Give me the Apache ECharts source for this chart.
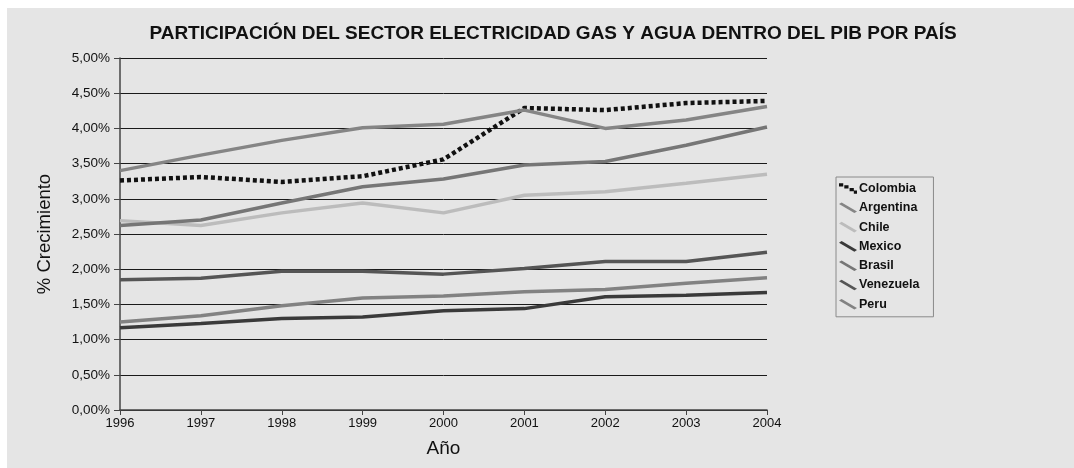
<!DOCTYPE html>
<html>
<head>
<meta charset="utf-8">
<script src="https://cdn.jsdelivr.net/npm/echarts@6/dist/echarts.min.js"></script>
<style>
  html, body { margin: 0; padding: 0; background: #ffffff; }
  #chart { width: 1074px; height: 468px; }
</style>
</head>
<body>
<div id="chart"></div>
<script>
// Years on the x axis
const years = ['1996', '1997', '1998', '1999', '2000', '2001', '2002', '2003', '2004'];

// Share of the electricity, gas and water sector in GDP (%)
const colombia  = [3.26, 3.31, 3.24, 3.32, 3.56, 4.29, 4.26, 4.36, 4.39];
const argentina = [3.40, 3.62, 3.83, 4.01, 4.06, 4.26, 4.00, 4.12, 4.31];
const chile     = [2.69, 2.62, 2.80, 2.94, 2.80, 3.05, 3.10, 3.22, 3.35];
const mexico    = [1.17, 1.23, 1.30, 1.32, 1.41, 1.44, 1.61, 1.63, 1.67];
const brasil    = [2.62, 2.70, 2.94, 3.17, 3.28, 3.48, 3.53, 3.76, 4.02];
const venezuela = [1.85, 1.87, 1.97, 1.97, 1.93, 2.01, 2.11, 2.11, 2.24];
const peru      = [1.25, 1.34, 1.48, 1.59, 1.62, 1.68, 1.71, 1.80, 1.88];

const FONT = '"Liberation Sans", Arial, sans-serif';

// Diagonal stroke used as legend swatch
const bandIcon = 'path://M0,1.5L2.5,0L17,8.5L14.5,10Z';
const dotIcon = 'path://M0,0L4,0L4,3L0,3Z M5,2L9,2L9,5L5,5Z M10,4.5L14,4.5L14,7.5L10,7.5Z M14,7L17,7L17,10L14,10Z';

function line(name, data, color, width, type) {
  return {
    name: name,
    type: 'line',
    data: data,
    symbol: 'none',
    smooth: false,
    lineStyle: { color: color, width: width, type: type || 'solid', cap: 'butt' },
    itemStyle: { color: color },
    emphasis: { disabled: true }
  };
}

const chart = echarts.init(document.getElementById('chart'), null, { renderer: 'canvas' });
chart.setOption({
  backgroundColor: '#ffffff',
  animation: false,
  graphic: [{
    type: 'rect',
    z: -10,
    shape: { x: 7, y: 8, width: 1067, height: 460 },
    style: { fill: '#e5e5e5' }
  }],
  title: {
    text: 'PARTICIPACIÓN DEL SECTOR ELECTRICIDAD GAS Y AGUA DENTRO DEL PIB POR PAÍS',
    left: 548,
    textAlign: 'center',
    top: 19,
    textStyle: { fontFamily: FONT, fontSize: 19, fontWeight: 'bold', color: '#111111' }
  },
  legend: {
    orient: 'vertical',
    left: 836,
    top: 177,
    width: 102,
    padding: [5, 14, 6, 3],
    itemGap: 6.3,
    itemWidth: 18,
    itemHeight: 12,
    backgroundColor: '#e5e5e5',
    borderColor: '#8a8a8a',
    borderWidth: 1,
    borderRadius: 0,
    textStyle: { fontFamily: FONT, fontSize: 12.5, fontWeight: 'bold', color: '#111111', padding: [0, 0, 0, -3] },
    data: [
      { name: 'Colombia', icon: dotIcon },
      { name: 'Argentina', icon: bandIcon },
      { name: 'Chile', icon: bandIcon },
      { name: 'Mexico', icon: bandIcon },
      { name: 'Brasil', icon: bandIcon },
      { name: 'Venezuela', icon: bandIcon },
      { name: 'Peru', icon: bandIcon }
    ]
  },
  grid: { left: 120, right: 307, top: 58, bottom: 58 },
  xAxis: {
    type: 'category',
    data: years,
    boundaryGap: false,
    name: 'Año',
    nameLocation: 'middle',
    nameGap: 29,
    nameTextStyle: { fontFamily: FONT, fontSize: 19, color: '#111111' },
    axisLine: { lineStyle: { color: '#444444', width: 1.5 } },
    axisTick: { show: true, length: 5, lineStyle: { color: '#444444' } },
    axisLabel: { fontFamily: FONT, fontSize: 13, color: '#111111', margin: 7 },
    splitLine: { show: false }
  },
  yAxis: {
    type: 'value',
    min: 0,
    max: 5,
    interval: 0.5,
    name: '% Crecimiento',
    nameLocation: 'middle',
    nameGap: 66,
    nameTextStyle: { fontFamily: FONT, fontSize: 18.5, color: '#111111' },
    axisLine: { show: true, lineStyle: { color: '#444444', width: 1.5 } },
    axisTick: { show: true, length: 6, lineStyle: { color: '#444444' } },
    axisLabel: {
      fontFamily: FONT, fontSize: 13.5, color: '#111111', margin: 10,
      formatter: v => v.toFixed(2).replace('.', ',') + '%'
    },
    splitLine: { show: true, lineStyle: { color: '#1a1a1a', width: 1 } }
  },
  series: [
    line('Colombia', colombia, '#111111', 4.5, [4, 3]),
    line('Argentina', argentina, '#858585', 3.5),
    line('Chile', chile, '#bcbcbc', 3.5),
    line('Mexico', mexico, '#3a3a3a', 3.5),
    line('Brasil', brasil, '#767676', 3.5),
    line('Venezuela', venezuela, '#555555', 3.5),
    line('Peru', peru, '#828282', 3.5)
  ]
});
</script>
</body>
</html>
